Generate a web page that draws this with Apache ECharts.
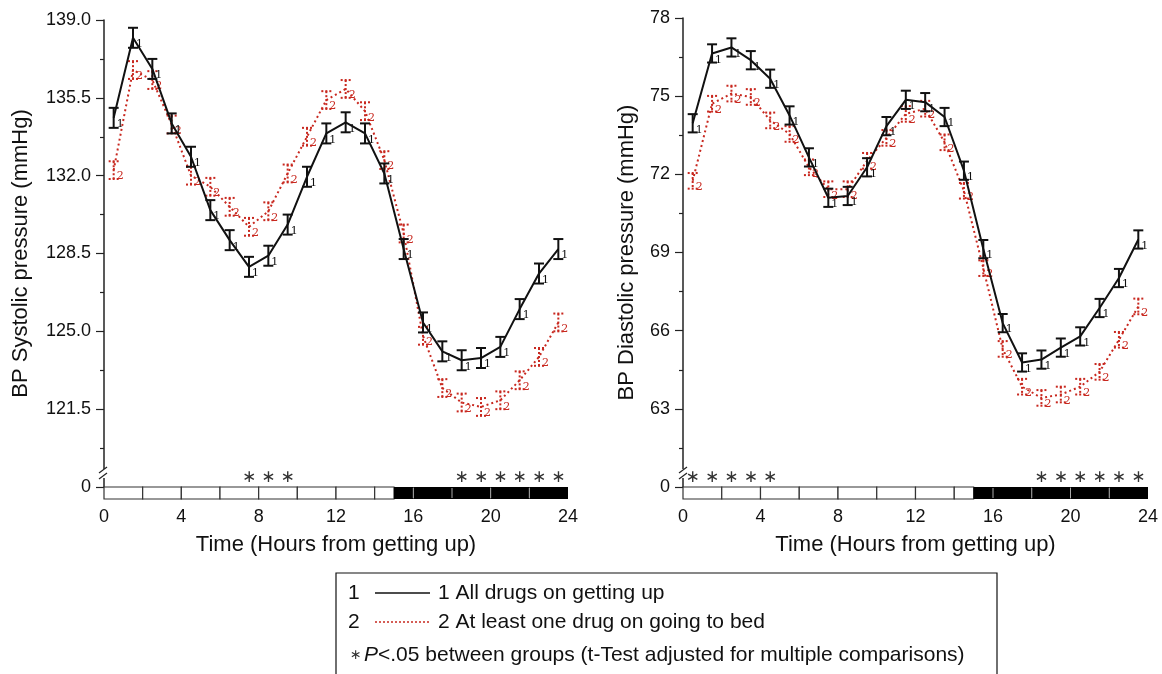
<!DOCTYPE html>
<html>
<head>
<meta charset="utf-8">
<script src="https://cdn.jsdelivr.net/npm/echarts/dist/echarts.min.js"></script>
<style>
  html, body { margin: 0; padding: 0; background: #fff; }
  #chart { width: 1162px; height: 674px; }
</style>
</head>
<body>
<div id="chart"></div>
<script>
// hours from getting up (mid-hour points)
const hours = [0.5, 1.5, 2.5, 3.5, 4.5, 5.5, 6.5, 7.5, 8.5, 9.5, 10.5, 11.5,
               12.5, 13.5, 14.5, 15.5, 16.5, 17.5, 18.5, 19.5, 20.5, 21.5, 22.5, 23.5];

// systolic BP (mmHg)
const sysGetUp = [134.6, 138.2, 136.8, 134.35, 132.85, 130.45, 129.1, 127.9, 128.4, 129.8, 131.95, 133.9,
                  134.4, 133.9, 132.1, 128.7, 125.4, 124.1, 123.7, 123.8, 124.3, 126.0, 127.6, 128.7];
const sysBed   = [132.25, 136.75, 136.3, 134.3, 132.0, 131.5, 130.6, 129.7, 130.4, 132.1, 133.75, 135.4,
                  135.9, 134.9, 132.7, 129.4, 124.8, 122.45, 121.8, 121.6, 121.9, 122.8, 123.85, 125.4];

// diastolic BP (mmHg)
const diaGetUp = [73.96, 76.64, 76.87, 76.38, 75.67, 74.26, 72.65, 71.1, 71.17, 72.27, 73.85, 74.86,
                  74.77, 74.2, 72.14, 69.13, 66.29, 64.78, 64.89, 65.35, 65.78, 66.87, 68.02, 69.5];
const diaBed   = [71.75, 74.71, 75.1, 74.97, 74.07, 73.55, 72.27, 71.43, 71.43, 72.52, 73.4, 74.32,
                  74.52, 73.23, 71.37, 68.4, 65.3, 63.85, 63.42, 63.55, 63.85, 64.42, 65.65, 66.93];

// standard error of each group (mmHg)
const seSys = [0.45, 0.4];
const seDia = [0.35, 0.3];

// hours with P<.05 between groups
const sigSys = [7.5, 8.5, 9.5, 18.5, 19.5, 20.5, 21.5, 22.5, 23.5];
const sigDia = [0.5, 1.5, 2.5, 3.5, 4.5, 18.5, 19.5, 20.5, 21.5, 22.5, 23.5];

// activity / rest bar
const barEdges = [0, 2, 4, 6, 8, 10, 12, 14, 15, 16, 18, 20, 22, 24];
const lightsOff = 15;

const BLACK = '#111';
const RED = '#c8281f';
const FONT = '"Liberation Sans", Arial, sans-serif';

const pairs = (vals) => hours.map((h, i) => [h, vals[i]]);

let chart = echarts.init(document.getElementById('chart'));

function errBar(color, dashed, tag, se) {
    return function (params, api) {
        let x = api.value(0), m = api.value(1);
        let top = api.coord([x, m + se]);
        let bot = api.coord([x, m - se]);
        let mid = api.coord([x, m]);
        let w = 5;
        let st = {stroke: color, lineWidth: 2, lineDash: dashed ? [2, 2] : null};
        return {
            type: 'group',
            children: [
                {type: 'line', shape: {x1: top[0], y1: top[1], x2: bot[0], y2: bot[1]}, style: st},
                {type: 'line', shape: {x1: top[0] - w, y1: top[1], x2: top[0] + w, y2: top[1]}, style: st},
                {type: 'line', shape: {x1: bot[0] - w, y1: bot[1], x2: bot[0] + w, y2: bot[1]}, style: st},
                {type: 'text', style: {text: tag, x: mid[0] + 3, y: mid[1] + 1, fill: color,
                    font: '11px "DejaVu Serif", serif', verticalAlign: 'top'}}
            ]
        };
    };
}

function starRender(yMin) {
    return function (params, api) {
        let p = api.coord([api.value(0), yMin]);
        return {type: 'text', style: {text: '∗', x: p[0], y: p[1] - 9, fill: '#333',
            font: '17px "DejaVu Sans", sans-serif', align: 'center', verticalAlign: 'middle'}};
    };
}

function barRender(yMin) {
    return function (params, api) {
        let a = api.coord([api.value(0), yMin]);
        let b = api.coord([api.value(1), yMin]);
        let night = api.value(0) >= lightsOff;
        let h = 12;
        if (!night) {
            return {type: 'rect', shape: {x: a[0], y: a[1], width: b[0] - a[0], height: h},
                style: {fill: '#fff', stroke: '#333', lineWidth: 1.2}};
        }
        let kids = [{type: 'rect', shape: {x: a[0], y: a[1], width: b[0] - a[0], height: h},
            style: {fill: '#000'}}];
        if (api.value(0) > lightsOff) {
            kids.push({type: 'line', shape: {x1: a[0], y1: a[1] + 1, x2: a[0], y2: a[1] + h - 1},
                style: {stroke: '#aaa', lineWidth: 1}});
        }
        return {type: 'group', children: kids};
    };
}

const segs = barEdges.slice(0, -1).map((s, i) => [s, barEdges[i + 1]]);

function panel(idx, yMin, g1, g2, se, sig) {
    return [
        {type: 'custom', xAxisIndex: idx, yAxisIndex: idx, data: segs, renderItem: barRender(yMin), silent: true, z: 1},
        {type: 'custom', xAxisIndex: idx, yAxisIndex: idx, data: sig.map(h => [h]), renderItem: starRender(yMin), silent: true},
        {type: 'line', xAxisIndex: idx, yAxisIndex: idx, data: pairs(g2), symbol: 'none',
            lineStyle: {color: RED, width: 2, type: [2, 3]}, z: 3},
        {type: 'custom', xAxisIndex: idx, yAxisIndex: idx, data: pairs(g2), renderItem: errBar(RED, true, '2', se[1]), z: 3},
        {type: 'line', xAxisIndex: idx, yAxisIndex: idx, data: pairs(g1), symbol: 'none',
            lineStyle: {color: BLACK, width: 2}, z: 4},
        {type: 'custom', xAxisIndex: idx, yAxisIndex: idx, data: pairs(g1), renderItem: errBar(BLACK, false, '1', se[0]), z: 4}
    ];
}

function yAxis(idx, yMin, yMax, yInt, dec, name, gap) {
    return {
        type: 'value', gridIndex: idx, min: yMin, max: yMax, interval: yInt,
        name: name, nameLocation: 'middle', nameGap: gap,
        nameTextStyle: {fontSize: 22, color: BLACK, fontFamily: FONT},
        axisLine: {show: true, lineStyle: {color: '#222', width: 1.5}},
        axisTick: {show: true, length: 8, lineStyle: {color: '#222', width: 1.2}},
        minorTick: {show: true, splitNumber: 2, length: 4, lineStyle: {color: '#222', width: 1.2}},
        splitLine: {show: false},
        axisLabel: {fontSize: 18, color: BLACK, fontFamily: FONT, margin: 13,
            formatter: v => v === yMin ? '0' : v.toFixed(dec)}
    };
}

function xAxis(idx) {
    return {
        type: 'value', gridIndex: idx, min: 0, max: 24, interval: 4,
        name: 'Time (Hours from getting up)', nameLocation: 'middle', nameGap: 47,
        nameTextStyle: {fontSize: 22, color: BLACK, fontFamily: FONT},
        axisLine: {show: false}, axisTick: {show: false}, splitLine: {show: false},
        axisLabel: {fontSize: 18, color: BLACK, fontFamily: FONT, margin: 21}
    };
}

// break marks on the y axes
function axisBreak(x, y) {
    return [
        {type: 'rect', shape: {x: x - 4, y: y - 5, width: 8, height: 9}, style: {fill: '#fff'}, z: 100},
        {type: 'line', shape: {x1: x - 4, y1: y - 1, x2: x + 4, y2: y - 7}, style: {stroke: '#222', lineWidth: 1.2}, z: 101},
        {type: 'line', shape: {x1: x - 4, y1: y + 5, x2: x + 4, y2: y - 1}, style: {stroke: '#222', lineWidth: 1.2}, z: 101}
    ];
}

const legendRows = [
    {y: 593, key: '1', text: '1 All drugs on getting up', color: BLACK, dash: null},
    {y: 622, key: '2', text: '2 At least one drug on going to bed', color: RED, dash: [2, 2]}
];

let graphics = [].concat(axisBreak(103, 474), axisBreak(683, 474));
graphics.push({type: 'rect', shape: {x: 336, y: 573, width: 661, height: 120},
    style: {fill: 'none', stroke: '#111', lineWidth: 1.2}});
legendRows.forEach(r => {
    graphics.push({type: 'text', style: {text: r.key, x: 348, y: r.y, fill: BLACK, font: '21px ' + FONT, verticalAlign: 'middle'}});
    graphics.push({type: 'line', shape: {x1: 375, y1: r.y, x2: 430, y2: r.y},
        style: {stroke: r.color, lineWidth: 1.5, lineDash: r.dash}});
    graphics.push({type: 'text', style: {text: r.text, x: 438, y: r.y, fill: BLACK, font: '21px ' + FONT, verticalAlign: 'middle'}});
});
graphics.push({type: 'text', style: {text: '∗', x: 350, y: 655, fill: '#333', font: '14px "DejaVu Sans", sans-serif', verticalAlign: 'middle'}});
graphics.push({type: 'text', style: {
    text: '{i|P}<.05 between groups (t-Test adjusted for multiple comparisons)',
    x: 364, y: 655, fill: BLACK, font: '21px ' + FONT, verticalAlign: 'middle',
    rich: {i: {fontStyle: 'italic', fontSize: 21, fontFamily: FONT, fill: BLACK}}}});

let option = {
    backgroundColor: '#fff',
    animation: false,
    grid: [
        {left: 104, top: 20, width: 464, height: 467},
        {left: 683, top: 18, width: 465, height: 469}
    ],
    xAxis: [xAxis(0), xAxis(1)],
    yAxis: [
        yAxis(0, 118, 139, 3.5, 1, 'BP Systolic pressure (mmHg)', 72),
        yAxis(1, 60, 78, 3, 0, 'BP Diastolic pressure (mmHg)', 45)
    ],
    series: [].concat(
        panel(0, 118, sysGetUp, sysBed, seSys, sigSys),
        panel(1, 60, diaGetUp, diaBed, seDia, sigDia)
    ),
    graphic: graphics
};

chart.setOption(option);
</script>
</body>
</html>
